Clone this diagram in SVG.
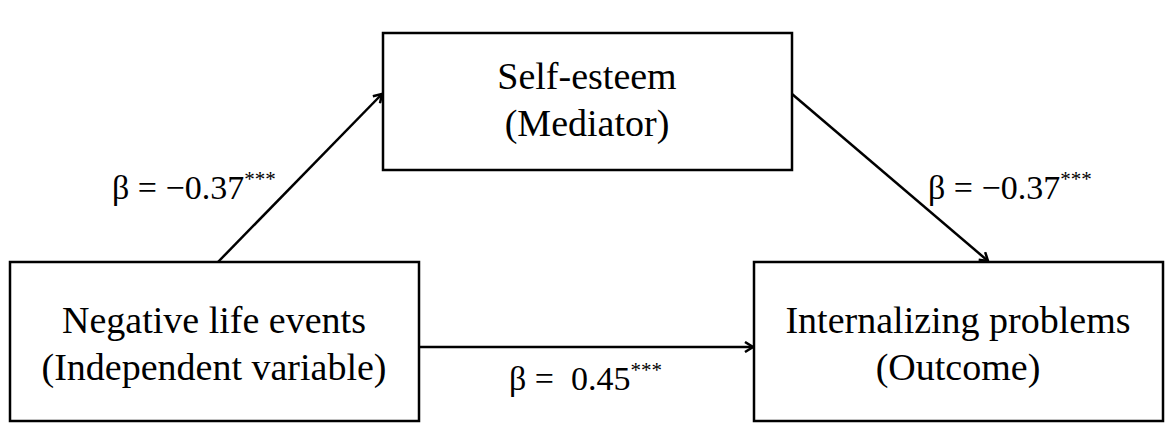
<svg xmlns="http://www.w3.org/2000/svg" width="1174" height="432" viewBox="0 0 1174 432">
<style>
.box{fill:#fff;stroke:#000;stroke-width:2.5}
.t{font-family:"Liberation Serif",serif;font-size:38px;text-anchor:middle;fill:#000}
.l{font-family:"Liberation Serif",serif;font-size:34px;fill:#000}
.c{stroke:#000;stroke-width:2.5;fill:none;marker-end:url(#a)}
</style>
<defs><marker id="a" markerWidth="12" markerHeight="12" refX="10" refY="6" orient="auto" markerUnits="userSpaceOnUse"><polyline points="2,1 10,6 2,11" fill="none" stroke="#000" stroke-width="2.5"/></marker></defs>
<rect width="1174" height="432" fill="#fff"/>
<g id="connectors">
<line class="c" x1="218" y1="262" x2="382" y2="94"/>
<line class="c" x1="792" y1="94" x2="988" y2="261"/>
<line class="c" x1="419" y1="347" x2="753" y2="347"/>
</g>
<g id="mediator"><rect class="box" x="383" y="33" width="409" height="137"/>
<text class="t" x="587" y="89">Self-esteem</text><text class="t" x="587" y="136">(Mediator)</text></g>
<g id="independent"><rect class="box" x="10" y="262" width="409" height="159"/>
<text class="t" x="214" y="333">Negative life events</text><text class="t" x="214" y="380">(Independent variable)</text></g>
<g id="outcome"><rect class="box" x="754" y="262" width="409" height="159"/>
<text class="t" x="958" y="333">Internalizing problems</text><text class="t" x="958" y="380">(Outcome)</text></g>
<g id="labels">
<text class="l" x="112" y="199">β = −0.37<tspan font-size="21" dy="-13">***</tspan></text>
<text class="l" x="928" y="199">β = −0.37<tspan font-size="21" dy="-13">***</tspan></text>
<text class="l" x="509" y="390">β =&#160; 0.45<tspan font-size="21" dy="-13">***</tspan></text>
</g>
</svg>
